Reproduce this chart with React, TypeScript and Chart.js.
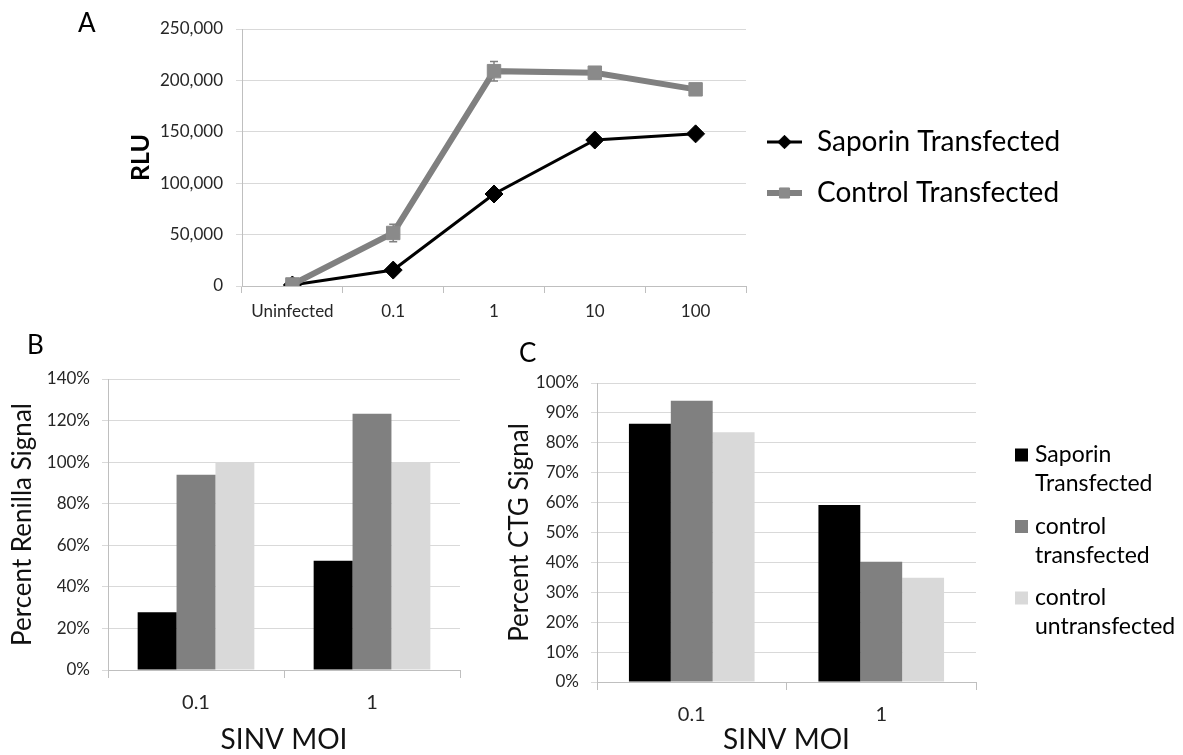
import React, { useEffect, useRef } from 'react';
import { Chart, registerables } from 'chart.js';
import { drawPoint } from 'chart.js/helpers';

Chart.register(...registerables);

// ---------- Data ----------
const moiLabelsA = ['Uninfected', '0.1', '1', '10', '100'];
const saporinRLU = [1000, 15500, 89500, 142000, 148000];
const controlRLU = [1500, 51600, 209000, 207500, 191300];
const saporinRLUErr = [300, 1500, 3000, 3000, 2000];
const controlRLUErr = [500, 8500, 9500, 3000, 2500];

const moiLabelsBC = ['0.1', '1'];
const renillaSaporin = [27.8, 52.6];
const renillaControlTransfected = [93.9, 123.3];
const renillaControlUntransfected = [99.8, 99.8];

const ctgSaporin = [86.4, 59.2];
const ctgControlTransfected = [94.1, 40.2];
const ctgControlUntransfected = [83.5, 34.9];

const seriesNamesA = ['Saporin Transfected', 'Control Transfected'];
const seriesNamesBC = ['Saporin Transfected', 'control transfected', 'control untransfected'];

// ---------- Styles ----------
const FONT = 'Lato';
const TEXT = '#262626';
const GRID = '#d9d9d9';
const AXIS = '#bfbfbf';
const BLACK = '#000000';
const DARK = '#808080';
const LIGHT = '#d9d9d9';

const tickFont = { family: FONT, size: 17 };

// ---------- Plugins ----------
const errorBarPlugin = {
  id: 'errorBars',
  beforeDatasetsDraw(chart: any) {
    const { ctx } = chart;
    const yScale = chart.scales.y;
    chart.data.datasets.forEach((ds: any, i: number) => {
      if (!ds.errorBars) return;
      const meta = chart.getDatasetMeta(i);
      ctx.save();
      ctx.strokeStyle = ds.borderColor;
      ctx.lineWidth = 1.5;
      meta.data.forEach((pt: any, j: number) => {
        const v = ds.data[j];
        const e = ds.errorBars[j];
        const yTop = yScale.getPixelForValue(v + e);
        const yBot = yScale.getPixelForValue(v - e);
        const x = pt.x;
        ctx.beginPath();
        ctx.moveTo(x, yTop);
        ctx.lineTo(x, yBot);
        ctx.moveTo(x - 4, yTop);
        ctx.lineTo(x + 4, yTop);
        ctx.moveTo(x - 4, yBot);
        ctx.lineTo(x + 4, yBot);
        ctx.stroke();
      });
      ctx.restore();
    });
  },
};

const lineLegendPlugin = {
  id: 'lineLegend',
  afterDraw(chart: any) {
    const { ctx, chartArea } = chart;
    const x0 = chartArea.right + 21;
    const lineLen = 35;
    const startY = 142;
    const gap = 51;
    const items = [0, 1];
    items.forEach((i, k) => {
      const ds = chart.data.datasets[i];
      const y = startY + k * gap;
      ctx.save();
      ctx.strokeStyle = ds.borderColor;
      ctx.lineWidth = ds.borderWidth;
      ctx.beginPath();
      ctx.moveTo(x0, y);
      ctx.lineTo(x0 + lineLen, y);
      ctx.stroke();
      ctx.fillStyle = ds.pointBackgroundColor;
      ctx.strokeStyle = ds.pointBorderColor;
      ctx.lineWidth = 1;
      drawPoint(ctx, { pointStyle: ds.pointStyle, radius: ds.pointRadius * 0.75, rotation: 0, borderWidth: 1 }, x0 + lineLen / 2, y);
      ctx.fillStyle = '#000';
      ctx.font = `28px ${FONT}`;
      ctx.textBaseline = 'middle';
      ctx.textAlign = 'left';
      ctx.fillText(ds.label, x0 + lineLen + 15, y);
      ctx.restore();
    });
  },
};

const boxLegendPlugin = {
  id: 'boxLegend',
  afterDraw(chart: any) {
    const { ctx, chartArea } = chart;
    const x0 = chartArea.right + 39;
    const startY = 125;
    const gap = 71.5;
    const lineGap = 29;
    chart.data.datasets.forEach((ds: any, i: number) => {
      const y = startY + i * gap;
      ctx.save();
      ctx.fillStyle = ds.backgroundColor;
      ctx.fillRect(x0, y - 6.5, 13, 13);
      ctx.fillStyle = '#000';
      ctx.font = `23px ${FONT}`;
      ctx.textBaseline = 'middle';
      ctx.textAlign = 'left';
      const label: string = ds.label;
      const idx = label.indexOf(' ');
      const lines = idx >= 0 ? [label.slice(0, idx), label.slice(idx + 1)] : [label];
      lines.forEach((ln, k) => ctx.fillText(ln, x0 + 20, y + k * lineGap));
      ctx.restore();
    });
  },
};

// ---------- Configs ----------
function configA(): any {
  return {
    type: 'line',
    data: {
      labels: moiLabelsA,
      datasets: [
        {
          label: seriesNamesA[0],
          data: saporinRLU,
          errorBars: saporinRLUErr,
          borderColor: BLACK,
          backgroundColor: BLACK,
          borderWidth: 3,
          pointStyle: 'rectRot',
          pointRadius: 9,
          pointBackgroundColor: BLACK,
          pointBorderColor: BLACK,
          pointBorderWidth: 1,
          tension: 0,
          order: 1,
        },
        {
          label: seriesNamesA[1],
          data: controlRLU,
          errorBars: controlRLUErr,
          borderColor: DARK,
          backgroundColor: DARK,
          borderWidth: 6,
          pointStyle: 'rect',
          pointRadius: 9.5,
          pointBackgroundColor: '#8a8a8a',
          pointBorderColor: '#8a8a8a',
          pointBorderWidth: 1,
          tension: 0,
          order: 0,
        },
      ],
    },
    options: {
      animation: false,
      responsive: false,
      events: [],
      layout: { padding: { left: 126, right: 437, top: 29, bottom: 0 } },
      plugins: { legend: { display: false }, tooltip: { enabled: false } },
      scales: {
        x: {
          offset: true,
          grid: { offset: true, drawOnChartArea: false, tickLength: 7, color: AXIS },
          border: { color: AXIS },
          ticks: { font: tickFont, color: TEXT, padding: 8, maxRotation: 0, autoSkip: false },
          afterFit: (s: any) => { s.height = 44; },
        },
        y: {
          min: 0,
          max: 250000,
          ticks: {
            stepSize: 50000,
            font: tickFont,
            color: TEXT,
            padding: 13,
            callback: (v: any) => Number(v).toLocaleString('en-US'),
          },
          grid: { color: GRID, tickLength: 6 },
          border: { color: AXIS },
          title: { display: true, text: 'RLU', font: { family: FONT, size: 25, weight: 'bold' }, color: '#000', padding: 0 },
          afterFit: (s: any) => { s.width = 116; },
        },
      },
    },
    plugins: [errorBarPlugin, lineLegendPlugin],
  };
}

function barConfig(
  values: number[][],
  yMax: number,
  yStep: number,
  yTitle: string,
  padding: any,
  yWidth: number,
  xHeight: number,
  withLegend: boolean,
): any {
  const colors = [BLACK, DARK, LIGHT];
  return {
    type: 'bar',
    data: {
      labels: moiLabelsBC,
      datasets: values.map((d, i) => ({
        label: seriesNamesBC[i],
        data: d,
        backgroundColor: colors[i],
        borderWidth: 0,
        categoryPercentage: 0.663,
        barPercentage: 1,
      })),
    },
    options: {
      animation: false,
      responsive: false,
      events: [],
      layout: { padding },
      plugins: { legend: { display: false }, tooltip: { enabled: false } },
      scales: {
        x: {
          grid: { offset: true, drawOnChartArea: false, tickLength: 8, color: AXIS },
          border: { color: AXIS },
          ticks: { font: { family: FONT, size: 20 }, color: TEXT, padding: 13, maxRotation: 0 },
          title: { display: true, text: 'SINV MOI', font: { family: FONT, size: 28 }, color: '#111', padding: { top: 0, bottom: -2 } },
          afterFit: (s: any) => { s.height = xHeight; },
        },
        y: {
          min: 0,
          max: yMax,
          ticks: {
            stepSize: yStep,
            font: tickFont,
            color: TEXT,
            padding: 12,
            callback: (v: any) => `${Math.round(Number(v))}%`,
          },
          grid: { color: GRID, tickLength: 6 },
          border: { color: AXIS },
          title: { display: true, text: yTitle, font: { family: FONT, size: 26 }, color: '#111', padding: 0 },
          afterFit: (s: any) => { s.width = yWidth; },
        },
      },
    },
    plugins: withLegend ? [boxLegendPlugin] : [],
  };
}

function configB(): any {
  return barConfig(
    [renillaSaporin, renillaControlTransfected, renillaControlUntransfected],
    140, 20, 'Percent Renilla Signal',
    { left: 7, right: 40, top: 49, bottom: 0 }, 101, 85, false,
  );
}

function configC(): any {
  return barConfig(
    [ctgSaporin, ctgControlTransfected, ctgControlUntransfected],
    100, 10, 'Percent CTG Signal',
    { left: 4, right: 207, top: 53, bottom: 0 }, 93, 73, true,
  );
}

// ---------- Components ----------
function ChartCanvas(props: { make: () => any; left: number; top: number; width: number; height: number }) {
  const ref = useRef<HTMLCanvasElement>(null);
  useEffect(() => {
    const chart = new Chart(ref.current as HTMLCanvasElement, props.make());
    return () => chart.destroy();
  }, []);
  return (
    <canvas
      ref={ref}
      width={props.width}
      height={props.height}
      style={{ position: 'absolute', left: props.left, top: props.top, width: props.width, height: props.height }}
    />
  );
}

const letterStyle: React.CSSProperties = {
  position: 'absolute',
  fontFamily: FONT,
  fontSize: 26,
  lineHeight: '26px',
  color: '#000',
};

export default function App() {
  return (
    <div style={{ position: 'absolute', left: 0, top: 0, width: 1183, height: 755, background: '#fff', overflow: 'hidden' }}>
      <ChartCanvas make={configA} left={0} top={0} width={1183} height={330} />
      <ChartCanvas make={configB} left={0} top={330} width={500} height={425} />
      <ChartCanvas make={configC} left={500} top={330} width={683} height={425} />
      <div style={{ ...letterStyle, left: 78, top: 9 }}>A</div>
      <div style={{ ...letterStyle, left: 27, top: 331 }}>B</div>
      <div style={{ ...letterStyle, left: 519, top: 339 }}>C</div>
    </div>
  );
}
